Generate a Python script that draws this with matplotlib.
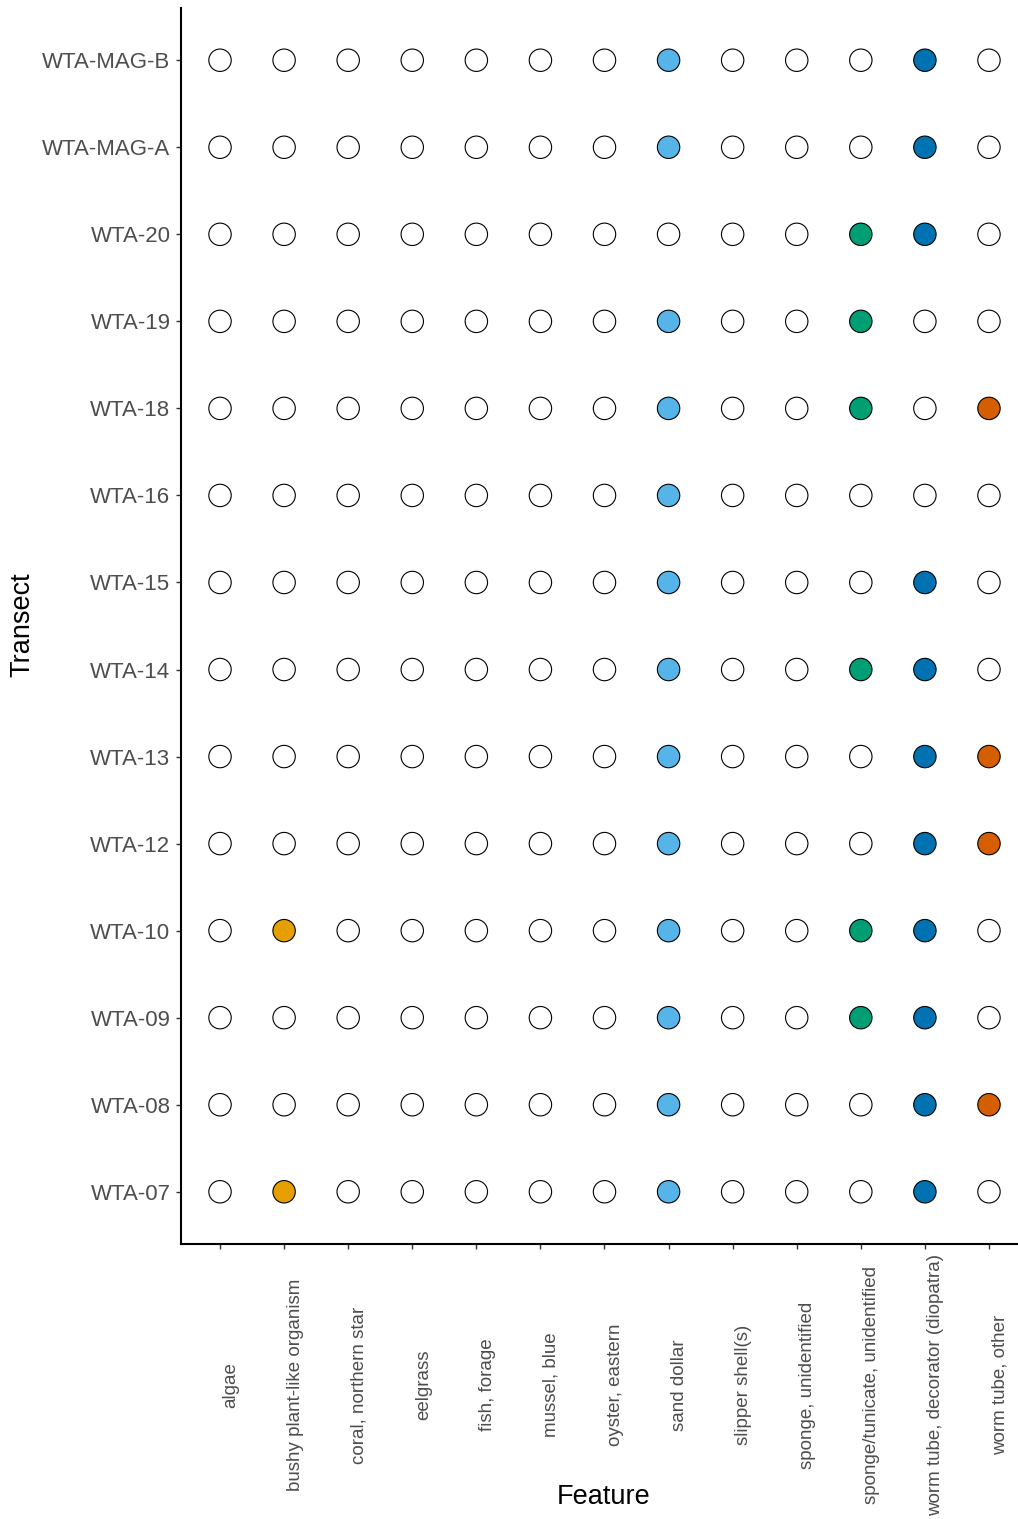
import matplotlib
matplotlib.use("Agg")
import matplotlib.pyplot as plt
from matplotlib.transforms import ScaledTranslation

features = ["algae", "bushy plant-like organism", "coral, northern star", "eelgrass",
            "fish, forage", "mussel, blue", "oyster, eastern", "sand dollar",
            "slipper shell(s)", "sponge, unidentified", "sponge/tunicate, unidentified",
            "worm tube, decorator (diopatra)", "worm tube, other"]

transects = ["WTA-07", "WTA-08", "WTA-09", "WTA-10", "WTA-12", "WTA-13", "WTA-14",
             "WTA-15", "WTA-16", "WTA-18", "WTA-19", "WTA-20", "WTA-MAG-A", "WTA-MAG-B"]

present = {
    "WTA-MAG-B": ["sand dollar", "worm tube, decorator (diopatra)"],
    "WTA-MAG-A": ["sand dollar", "worm tube, decorator (diopatra)"],
    "WTA-20": ["sponge/tunicate, unidentified", "worm tube, decorator (diopatra)"],
    "WTA-19": ["sand dollar", "sponge/tunicate, unidentified"],
    "WTA-18": ["sand dollar", "sponge/tunicate, unidentified", "worm tube, other"],
    "WTA-16": ["sand dollar"],
    "WTA-15": ["sand dollar", "worm tube, decorator (diopatra)"],
    "WTA-14": ["sand dollar", "sponge/tunicate, unidentified", "worm tube, decorator (diopatra)"],
    "WTA-13": ["sand dollar", "worm tube, decorator (diopatra)", "worm tube, other"],
    "WTA-12": ["sand dollar", "worm tube, decorator (diopatra)", "worm tube, other"],
    "WTA-10": ["bushy plant-like organism", "sand dollar", "sponge/tunicate, unidentified",
               "worm tube, decorator (diopatra)"],
    "WTA-09": ["sand dollar", "sponge/tunicate, unidentified", "worm tube, decorator (diopatra)"],
    "WTA-08": ["sand dollar", "worm tube, decorator (diopatra)", "worm tube, other"],
    "WTA-07": ["bushy plant-like organism", "sand dollar", "worm tube, decorator (diopatra)"],
}

feature_colors = {
    "bushy plant-like organism": "#E69F00",
    "sand dollar": "#56B4E9",
    "sponge/tunicate, unidentified": "#009E73",
    "worm tube, decorator (diopatra)": "#0072B2",
    "worm tube, other": "#D55E00",
}

plt.rcParams['font.family'] = ['Liberation Sans', 'DejaVu Sans']

W, H = 1018, 1519
fig = plt.figure(figsize=(W / 100, H / 100), dpi=100)
ax = fig.add_axes([181 / W, (H - 1244) / H, (1018 - 181) / W, (1244 - 8) / H])

xs, ys, cs = [], [], []
for j, t in enumerate(transects):
    for i, f in enumerate(features):
        xs.append(i)
        ys.append(j)
        cs.append(feature_colors[f] if f in present[t] else "white")

ax.scatter(xs, ys, s=260, c=cs, edgecolors="black", linewidths=0.8, zorder=3)

n_f, n_t = len(features), len(transects)
ax.set_xlim(-0.609, 12.453)
ax.set_ylim(-0.6, n_t - 1 + 0.6)

ax.set_xticks(range(n_f))
ax.set_xticklabels(features, rotation=90, ha="center", va="center", fontsize=13.5, color="#4D4D4D")
ax.set_yticks(range(n_t))
ax.set_yticklabels(transects, fontsize=16, color="#4D4D4D")

ax.tick_params(axis="x", length=3.6, width=1, color="#333333", pad=98)
ax.tick_params(axis="y", length=3.6, width=1, color="#333333", pad=4)

offset = ScaledTranslation(11 / 100, 0, fig.dpi_scale_trans)
for lab in ax.get_xticklabels():
    lab.set_transform(lab.get_transform() + offset)

for side in ["top", "right"]:
    ax.spines[side].set_visible(False)
for side in ["left", "bottom"]:
    ax.spines[side].set_linewidth(1.5)
    ax.spines[side].set_color("black")

fig.text(604 / W, 1 - 1497 / H, "Feature", ha="center", va="center", fontsize=19.5, color="black")
fig.text(22 / W, 1 - 625 / H, "Transect", ha="center", va="center", fontsize=19.5, rotation=90, color="black")

fig.savefig("out.png", dpi=100, facecolor="white")
